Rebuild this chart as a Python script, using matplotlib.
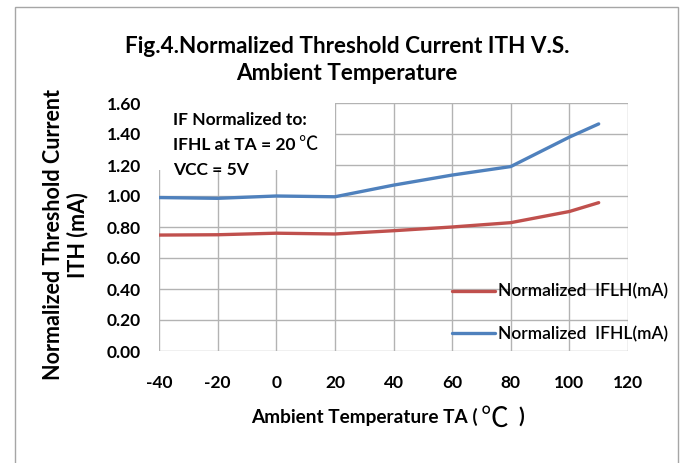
import matplotlib
matplotlib.use("Agg")
import matplotlib.pyplot as plt
from matplotlib.patches import Rectangle

# ---- data ----
temps = [-40, -20, 0, 20, 40, 60, 80, 100, 110]
iflh = [0.748, 0.750, 0.760, 0.755, 0.776, 0.800, 0.828, 0.900, 0.957]
ifhl = [0.990, 0.985, 1.000, 0.995, 1.070, 1.135, 1.190, 1.380, 1.465]
series_names = ["Normalized  IFLH(mA)", "Normalized  IFHL(mA)"]
x_ticks = [-40, -20, 0, 20, 40, 60, 80, 100, 120]
y_ticks = [0.0, 0.2, 0.4, 0.6, 0.8, 1.0, 1.2, 1.4, 1.6]
title = "Fig.4.Normalized Threshold Current ITH V.S.\nAmbient Temperature"
xlabel_parts = ["Ambient Temperature TA (", "\u2103", ")"]
ylabel = "Normalized Threshold Current\nITH (mA)"
note_lines = ["IF Normalized to:", "IFHL at TA = 20", "VCC = 5V"]
degc = "\u2103"

FONT = ["Lato", "Noto Sans CJK SC", "DejaVu Sans"]
CJK = ["Noto Sans CJK SC", "DejaVu Sans"]
plt.rcParams["font.family"] = FONT

W, H = 683, 463
fig = plt.figure(figsize=(W / 100, H / 100), dpi=100)
fig.patch.set_facecolor("white")

# figure frame
fig.add_artist(Rectangle((15 / W, -0.01), (678 - 15) / W, 1 - 7 / H + 0.01,
                         transform=fig.transFigure, fill=False,
                         edgecolor="#a6a6a6", linewidth=1.0))

ax = fig.add_axes([159 / W, 1 - 351 / H, (628 - 159) / W, (351 - 103) / H])
ax.set_xlim(-40, 120)
ax.set_ylim(0, 1.6)
ax.set_xticks(x_ticks)
ax.set_yticks(y_ticks)
ax.set_xticklabels([str(v) for v in x_ticks], fontweight="bold", fontsize=12.5)
ax.set_yticklabels([f"{v:.2f}" for v in y_ticks], fontweight="bold", fontsize=12.5)
ax.tick_params(length=0, colors="black")
ax.tick_params(axis="x", pad=17)
ax.tick_params(axis="y", pad=13)
for s in ax.spines.values():
    s.set_visible(False)
ax.grid(True, color="#b3b3b3", linewidth=1.0)
ax.set_axisbelow(True)

# white note box covering the grid
ax.add_patch(Rectangle((-41, 1.168), 61, 0.5, facecolor="white",
                       edgecolor="none", zorder=1.5, clip_on=False))
note_y_px = [120, 145, 170]
note_texts = []
for line, ypx in zip(note_lines, note_y_px):
    t = fig.text(173 / W, 1 - ypx / H, line, fontsize=12.5, fontweight="bold",
                 va="center", ha="left", zorder=3)
    note_texts.append(t)
ax.annotate(degc, xy=(1, 0.5), xycoords=note_texts[1], xytext=(2, 0),
            textcoords="offset points", va="center", ha="left",
            fontsize=14, fontweight="light", family=CJK, annotation_clip=False)

l1, = ax.plot(temps, iflh, color="#C0504D", linewidth=2.4, zorder=3,
              solid_capstyle="round")
l2, = ax.plot(temps, ifhl, color="#4F81BD", linewidth=2.4, zorder=3,
              solid_capstyle="round")

fig.legend([l1, l2], series_names, loc="upper left",
           bbox_to_anchor=(436 / W, 1 - 268 / H), frameon=False,
           handlelength=2.5, handletextpad=0.15, labelspacing=1.5,
           prop={"size": 12.5, "weight": "semibold", "family": FONT})

fig.text(347 / W, 1 - 60 / H, title, ha="center", va="center",
         fontsize=16.2, fontweight="bold", linespacing=1.4)

xt = fig.text(478 / W, 1 - 417 / H, xlabel_parts[0], ha="right", va="center",
              fontsize=13.7, fontweight="bold")
xc = ax.annotate(xlabel_parts[1], xy=(1, 0.5), xycoords=xt, xytext=(2, -1),
                 textcoords="offset points", va="center", ha="left",
                 fontsize=20, fontweight="light", family=CJK,
                 annotation_clip=False)
ax.annotate(xlabel_parts[2], xy=(1, 0.5), xycoords=xc, xytext=(7, 1),
            textcoords="offset points", va="center", ha="left",
            fontsize=15, fontweight="bold", annotation_clip=False)

fig.text(66 / W, 1 - 235 / H, ylabel, ha="center", va="center",
         rotation=90, fontsize=15.5, fontweight="bold", linespacing=1.15)

fig.savefig("out.png", dpi=100)
